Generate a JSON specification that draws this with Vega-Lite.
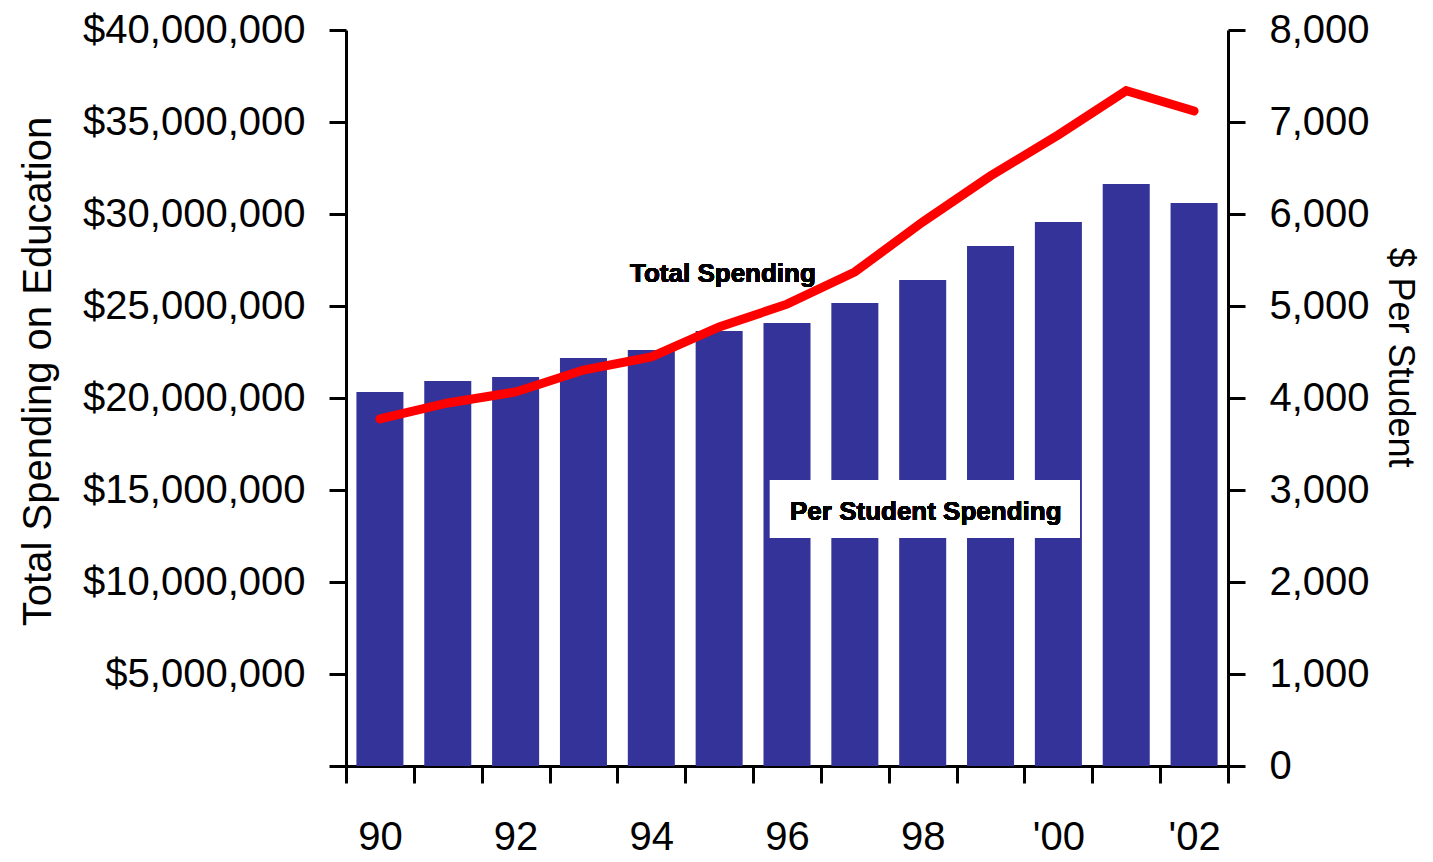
{
  "$schema": "https://vega.github.io/schema/vega-lite/v6.json",
  "autosize": {"type": "none"},
  "width": 882,
  "height": 736,
  "padding": {"left": 346, "top": 30, "right": 205, "bottom": 96},
  "background": "white",
  "config": {
    "view": {"stroke": null},
    "font": "Liberation Sans",
    "axis": {
      "grid": false,
      "domainColor": "black",
      "domainWidth": 3,
      "tickColor": "black",
      "tickWidth": 3,
      "tickSize": 17,
      "labelFont": "Liberation Sans",
      "labelFontSize": 40,
      "labelColor": "black",
      "labelPadding": 24,
      "labelLimit": 0,
      "titleColor": "black"
    }
  },
  "data": {
    "values": [
      {"year": 1990, "total": 18860000, "perStudent": 4065},
      {"year": 1991, "total": 19730000, "perStudent": 4185},
      {"year": 1992, "total": 20330000, "perStudent": 4228},
      {"year": 1993, "total": 21520000, "perStudent": 4435},
      {"year": 1994, "total": 22230000, "perStudent": 4522},
      {"year": 1995, "total": 23860000, "perStudent": 4728},
      {"year": 1996, "total": 25100000, "perStudent": 4815},
      {"year": 1997, "total": 26850000, "perStudent": 5033},
      {"year": 1998, "total": 29570000, "perStudent": 5283},
      {"year": 1999, "total": 32070000, "perStudent": 5652},
      {"year": 2000, "total": 34300000, "perStudent": 5913},
      {"year": 2001, "total": 36700000, "perStudent": 6326},
      {"year": 2002, "total": 35600000, "perStudent": 6120}
    ]
  },
  "layer": [
    {
      "mark": {"type": "bar", "color": "#333399", "width": {"band": 0.693}},
      "encoding": {
        "x": {
          "field": "year",
          "type": "ordinal",
          "scale": {"paddingInner": 0, "paddingOuter": 0},
          "axis": {
            "title": null,
            "orient": "bottom",
            "tickBand": "extent",
            "labelAngle": 0,
            "labelPadding": 34,
            "labelExpr": "datum.value % 2 == 0 ? (datum.value < 2000 ? substring(toString(datum.value), 2) : \"'\" + substring(toString(datum.value), 2)) : ''"
          }
        },
        "y": {
          "field": "perStudent",
          "type": "quantitative",
          "scale": {"domain": [0, 8000], "nice": false},
          "axis": {
            "orient": "right",
            "values": [0, 1000, 2000, 3000, 4000, 5000, 6000, 7000, 8000],
            "format": ",d",
            "title": "$ Per Student",
            "titleFont": "Liberation Sans",
            "titleFontSize": 36,
            "titleFontWeight": "normal",
            "titleAngle": 90,
            "titleAlign": "center",
            "titleBaseline": "alphabetic",
            "titleX": 160,
            "titleY": 327
          }
        }
      }
    },
    {
      "layer": [
        {
          "mark": {"type": "rect", "color": "white"},
          "encoding": {
            "x": {"datum": 1996, "type": "ordinal", "bandPosition": 0.249},
            "x2": {"datum": 2000, "bandPosition": 0.818},
            "y": {"datum": 12390000, "type": "quantitative"},
            "y2": {"datum": 15540000}
          }
        },
        {
          "mark": {"type": "line", "color": "#FF0000", "strokeWidth": 9, "strokeCap": "round"},
          "encoding": {
            "x": {"field": "year", "type": "ordinal"},
            "y": {
              "field": "total",
              "type": "quantitative",
              "scale": {"domain": [0, 40000000], "nice": false},
              "axis": {
                "orient": "left",
                "values": [0, 5000000, 10000000, 15000000, 20000000, 25000000, 30000000, 35000000, 40000000],
                "format": "$,d",
                "labelExpr": "datum.value == 0 ? '' : datum.label",
                "title": "Total Spending on Education",
                "titleFont": "Liberation Sans",
                "titleFontSize": 40,
                "titleFontWeight": "normal",
                "titleAngle": -90,
                "titleAlign": "center",
                "titleBaseline": "alphabetic",
                "titleX": -296,
                "titleY": 341
              }
            }
          }
        },
        {
          "mark": {"type": "text", "text": "Total Spending", "font": "Liberation Sans", "fontWeight": "bold", "fontSize": 26, "align": "left", "baseline": "alphabetic", "color": "black"},
          "encoding": {
            "x": {"datum": 1994, "type": "ordinal", "bandPosition": 0.186},
            "y": {"datum": 26300000, "type": "quantitative"}
          }
        },
        {
          "mark": {"type": "text", "text": "Per Student Spending", "font": "Liberation Sans", "fontWeight": "bold", "fontSize": 26, "align": "left", "baseline": "alphabetic", "color": "black"},
          "encoding": {
            "x": {"datum": 1996, "type": "ordinal", "bandPosition": 0.544},
            "y": {"datum": 13370000, "type": "quantitative"}
          }
        }
      ]
    }
  ],
  "resolve": {"scale": {"y": "independent"}}
}
